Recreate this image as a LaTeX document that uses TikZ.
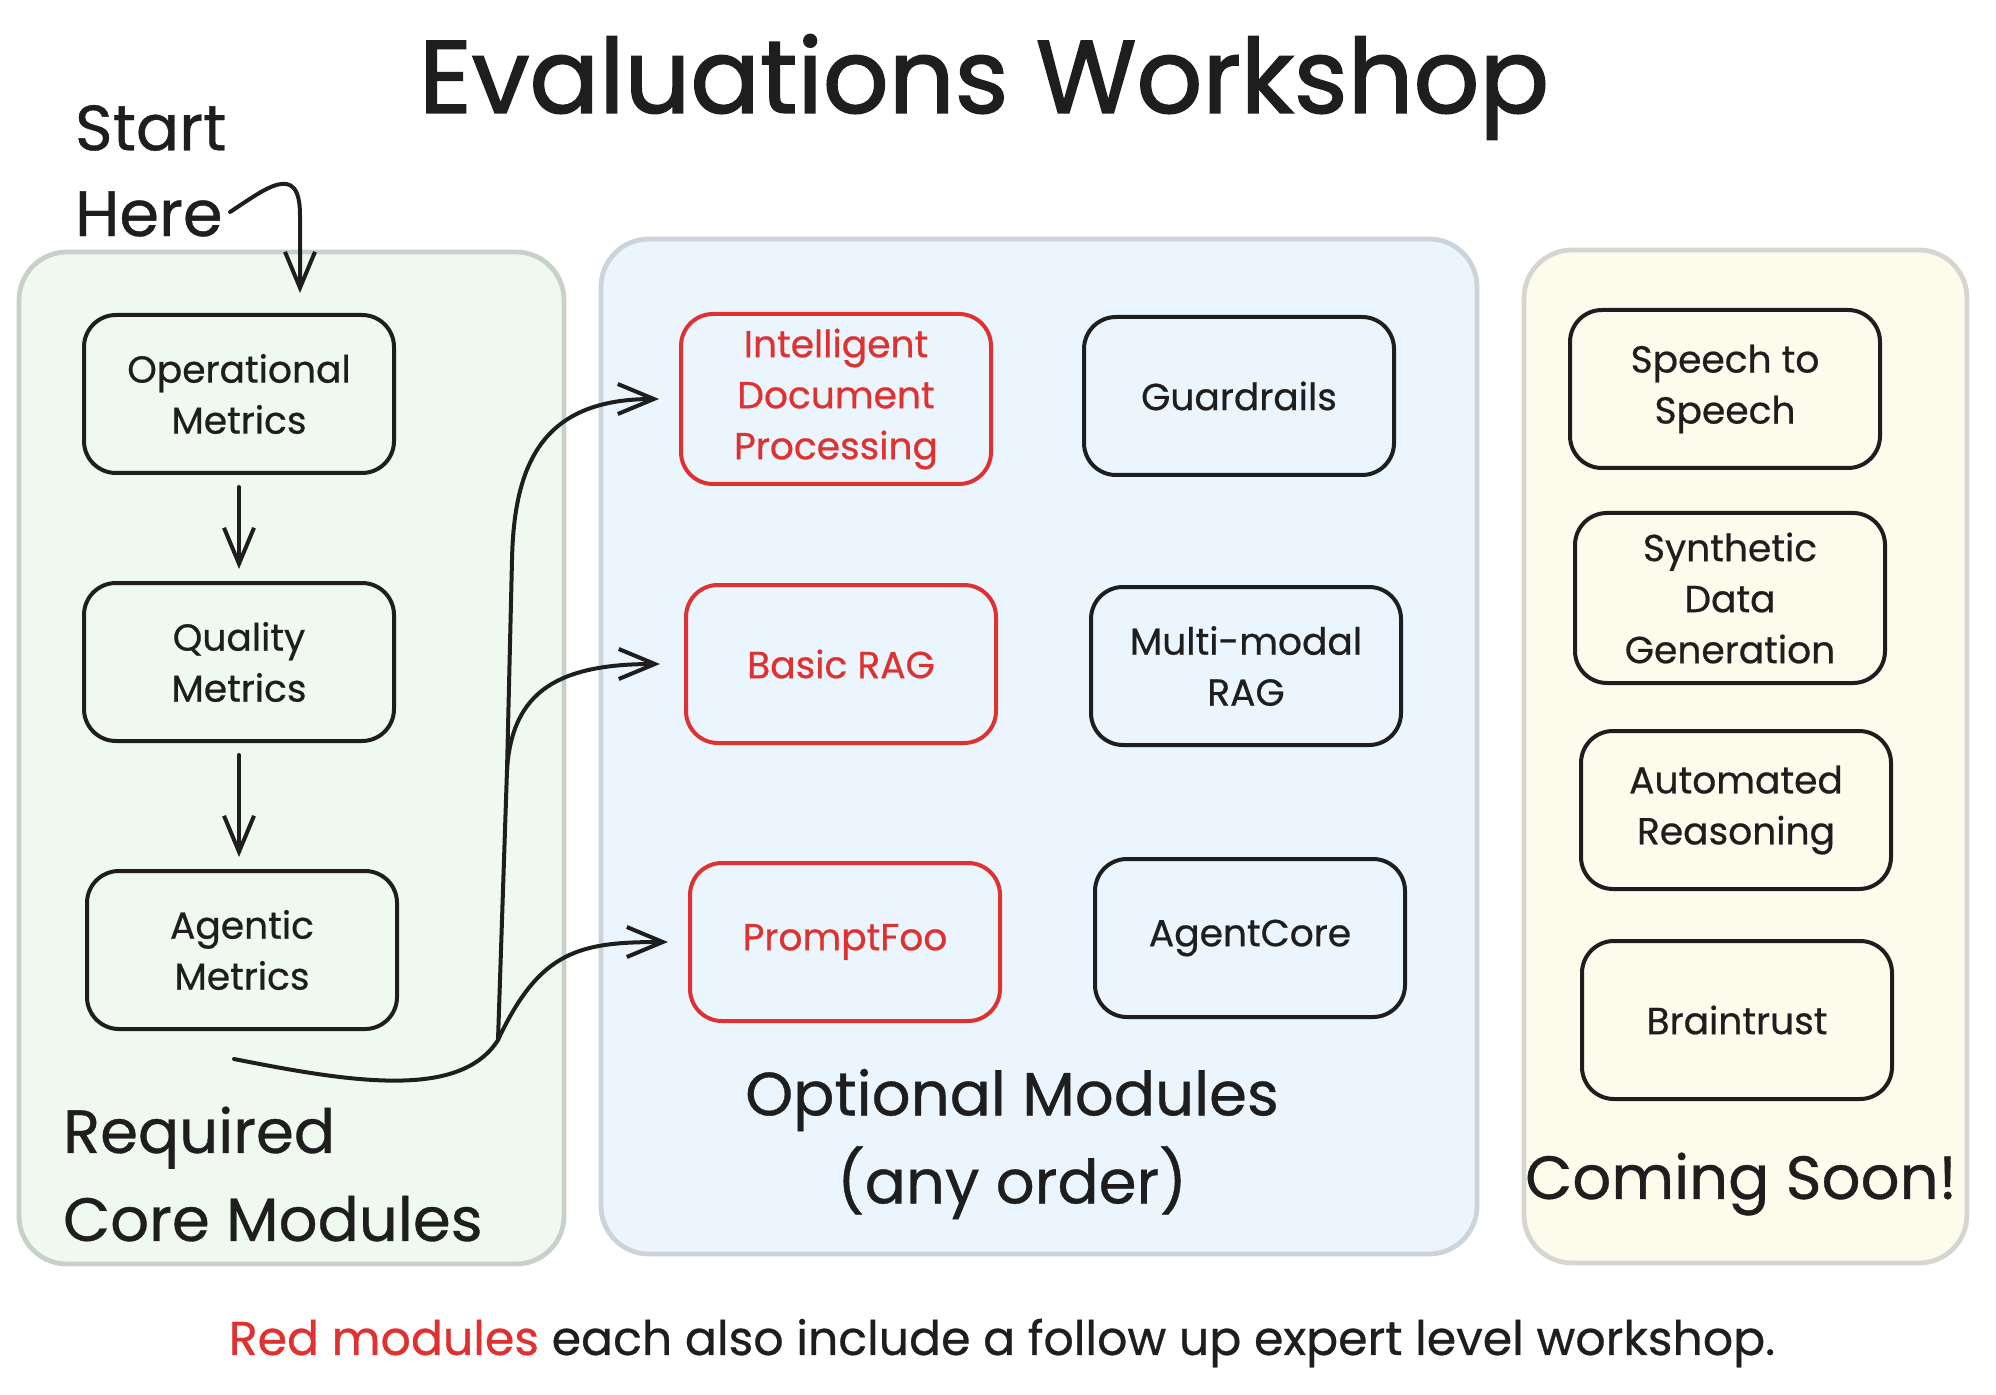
\documentclass[tikz,border=0pt]{standalone}
\usepackage{fontspec}
\setmainfont{Poppins}[FakeBold=0.6]
\newfontfamily\titlefont{Poppins}[FakeBold=1.6]
\usetikzlibrary{arrows.meta}
\definecolor{ink}{HTML}{1E1E1E}
\definecolor{redm}{HTML}{E03131}
\definecolor{gfill}{HTML}{EFF9F0}
\definecolor{gline}{HTML}{C7D1C9}
\definecolor{bfill}{HTML}{EBF5FE}
\definecolor{bline}{HTML}{CCD3DB}
\definecolor{yfill}{HTML}{FDFBEC}
\definecolor{yline}{HTML}{D6D6D1}
\begin{document}
\begin{tikzpicture}[x=0.5pt,y=-0.5pt,
 panel/.style={line width=2.4pt, rounded corners=24pt},
 mod/.style={draw=ink, line width=2pt, rounded corners=16pt, minimum width=155pt, minimum height=79pt, align=center, text=ink, font=\fontsize{18.8}{25.5}\selectfont, inner sep=2pt},
 tallmod/.style={mod, minimum height=85pt},
 redmod/.style={draw=redm, text=redm},
 arr/.style={draw=ink, line width=2pt, line cap=round, -{Straight Barb[length=18pt,width=15pt,line width=2pt]}},
 big/.style={font=\fontsize{30.5}{44}\selectfont, text=ink},
]
\useasboundingbox (0,0) rectangle (1996,1395);
\fill[white] (0,0) rectangle (1996,1395);

% panels
\draw[panel, fill=gfill, draw=gline] (19,252) rectangle (564,1264);
\draw[panel, fill=bfill, draw=bline] (601,239) rectangle (1477,1254);
\draw[panel, fill=yfill, draw=yline] (1524,250) rectangle (1967,1263);

% title and labels
\node[font=\titlefont\fontsize{51.5}{60}\selectfont, text=ink] (title) at (984,87) {Evaluations Workshop};
\node[big, font=\fontsize{32}{44}\selectfont, anchor=west, align=left] (start) at (68,128) {Start};
\node[big, font=\fontsize{32}{44}\selectfont, anchor=west, align=left] (here) at (68,214) {Here};
\node[big, anchor=west, align=left] (req) at (56,1174) {Required\\Core Modules};
\node[big, align=center] (opt) at (1012,1144) {Optional Modules\\(any order)};
\node[big] (soon) at (1741,1184) {Coming Soon!};
\node[font=\fontsize{23.7}{28}\selectfont, text=ink] (foot) at (1002,1343) {\textcolor{redm}{Red modules} each also include a follow up expert level workshop.};

% left column
\node[mod] (op) at (239,394) {Operational\\Metrics};
\node[mod] (qual) at (239,662) {Quality\\Metrics};
\node[mod] (agent) at (242,950) {Agentic\\Metrics};

% middle
\node[tallmod, redmod] (idp) at (836,399) {Intelligent\\Document\\Processing};
\node[mod] (guard) at (1239,396) {Guardrails};
\node[mod, redmod] (brag) at (841,664) {Basic RAG};
\node[mod] (mmrag) at (1246,666) {Multi-modal\\RAG};
\node[mod, redmod] (pf) at (845,942) {PromptFoo};
\node[mod] (core) at (1250,938) {AgentCore};

% right
\node[mod] (s2s) at (1725,389) {Speech to\\Speech};
\node[tallmod] (synth) at (1730,598) {Synthetic\\Data\\Generation};
\node[mod] (auto) at (1736,810) {Automated\\Reasoning};
\node[mod] (brain) at (1737,1020) {Braintrust};

% connectors
\coordinate (herestart) at (230,212);
\coordinate (hereend) at (300,293);
\draw[arr] (herestart) .. controls (264,190) and (300,160) .. (300,215) -- (hereend);

\draw[arr, shorten <=6pt, shorten >=6pt] (op.south) -- (qual.north);
\draw[arr, shorten <=6pt, shorten >=6pt] (qual.south) -- (qual.south |- agent.north);

\coordinate (cstart) at (234,1059);
\coordinate (j1) at (498,1040);
\coordinate (j2) at (507,770);
\coordinate (j3) at (512,560);
\draw[ink, line width=2pt, line cap=round] (cstart) .. controls (350,1082) and (460,1100) .. (j1) -- (j2) -- (j3);
\draw[arr, shorten >=10pt] (j1) .. controls (540,950) and (580,942) .. (pf.west);
\draw[arr, shorten >=12pt] (j2) .. controls (512,690) and (560,664) .. (brag.west);
\draw[arr, shorten >=10pt] (j3) .. controls (514,460) and (545,399) .. (idp.west);
\end{tikzpicture}
\end{document}
